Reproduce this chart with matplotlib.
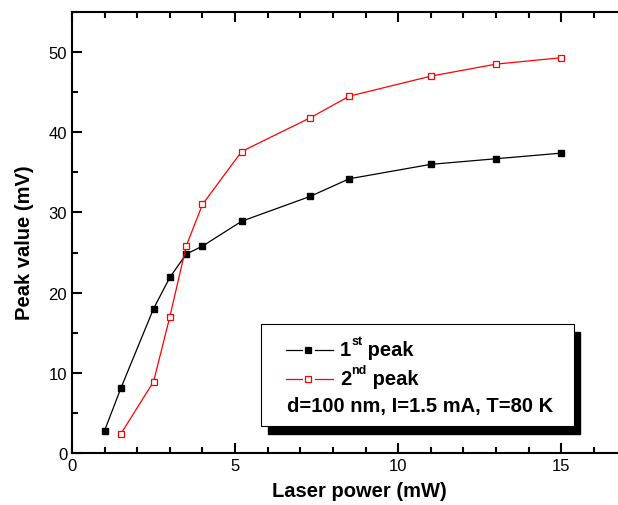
import matplotlib.pyplot as plt
from matplotlib.lines import Line2D
from matplotlib.patches import Rectangle
from matplotlib.ticker import MultipleLocator

plt.rcParams['font.family'] = ['Liberation Sans', 'DejaVu Sans']

# data
power_1st = [1.0, 1.5, 2.5, 3.0, 3.5, 4.0, 5.2, 7.3, 8.5, 11.0, 13.0, 15.0]
peak_1st = [2.8, 8.1, 18.0, 21.9, 24.8, 25.8, 28.9, 32.0, 34.2, 36.0, 36.7, 37.4]
power_2nd = [1.5, 2.5, 3.0, 3.5, 4.0, 5.2, 7.3, 8.5, 11.0, 13.0, 15.0]
peak_2nd = [2.4, 8.9, 17.0, 25.8, 31.0, 37.6, 41.8, 44.5, 47.0, 48.5, 49.3]

fig = plt.figure(figsize=(6.18, 5.06), dpi=100)
ax = fig.add_axes([0.1165, 0.1028, 0.8815, 0.8715])

ax.plot(power_1st, peak_1st, color='black', lw=0.9, marker='s', ms=4.5,
        mfc='black', mec='black')
ax.plot(power_2nd, peak_2nd, color='red', lw=0.9, marker='s', ms=4.5,
        mfc='white', mec='red', mew=0.9)

ax.set_xlim(0, 16.7)
ax.set_ylim(0, 55)
ax.xaxis.set_major_locator(MultipleLocator(5))
ax.xaxis.set_minor_locator(MultipleLocator(1))
ax.yaxis.set_major_locator(MultipleLocator(10))
ax.yaxis.set_minor_locator(MultipleLocator(5))
ax.tick_params(which='both', direction='in', top=True, right=False,
               width=1.5, labelsize=12)
ax.tick_params(which='major', length=7)
ax.tick_params(which='minor', length=4)
ax.spines['right'].set_visible(False)
for s in ['left', 'bottom', 'top']:
    ax.spines[s].set_linewidth(1.5)

ax.set_xlabel('Laser power (mW)', fontsize=14.5, fontweight='bold')
ax.set_ylabel('Peak value (mV)', fontsize=14.5, fontweight='bold')
ax.xaxis.set_label_coords(0.5275, -0.064)
ax.yaxis.set_label_coords(-0.07, 0.48)

# legend box with drop shadow
bx, by, bw, bh = 0.347, 0.0612, 0.574, 0.2313
ax.add_patch(Rectangle((bx + 0.012, by - 0.018), bw, bh, transform=ax.transAxes,
                       facecolor='black', edgecolor='black', zorder=5))
ax.add_patch(Rectangle((bx, by), bw, bh, transform=ax.transAxes,
                       facecolor='white', edgecolor='black', lw=0.8, zorder=6))

rows_y = [0.2343, 0.1685, 0.1074]
seg_a = [0.393, 0.422]
seg_b = [0.446, 0.479]
mx = 0.434
styles = [dict(color='black', mfc='black', mec='black'),
          dict(color='red', mfc='white', mec='red')]
labels = [('1', 'st'), ('2', 'nd')]
for y, st, (num, sup) in zip(rows_y[:2], styles, labels):
    for seg in (seg_a, seg_b):
        ax.add_line(Line2D(seg, [y, y], color=st['color'], lw=0.9,
                           transform=ax.transAxes, zorder=7))
    ax.add_line(Line2D([mx], [y], marker='s', ms=4.5, mfc=st['mfc'],
                       mec=st['mec'], mew=0.9, transform=ax.transAxes, zorder=8))
    t_num = ax.text(0.492, y, num, transform=ax.transAxes, fontsize=14.5,
                    fontweight='bold', va='center', zorder=8)
    t_sup = ax.annotate(sup, xy=(1.0, 0.62), xycoords=t_num, fontsize=9,
                        fontweight='bold', va='bottom', ha='left', zorder=8)
    ax.annotate(' peak', xy=(1.0, 0.0), xycoords=(t_sup, t_num), fontsize=14.5,
                fontweight='bold', va='bottom', ha='left', zorder=8)

ax.text(0.394, rows_y[2], 'd=100 nm, I=1.5 mA, T=80 K', transform=ax.transAxes,
        fontsize=14.5, fontweight='bold', va='center', zorder=8)

fig.savefig('out.png', dpi=100)
